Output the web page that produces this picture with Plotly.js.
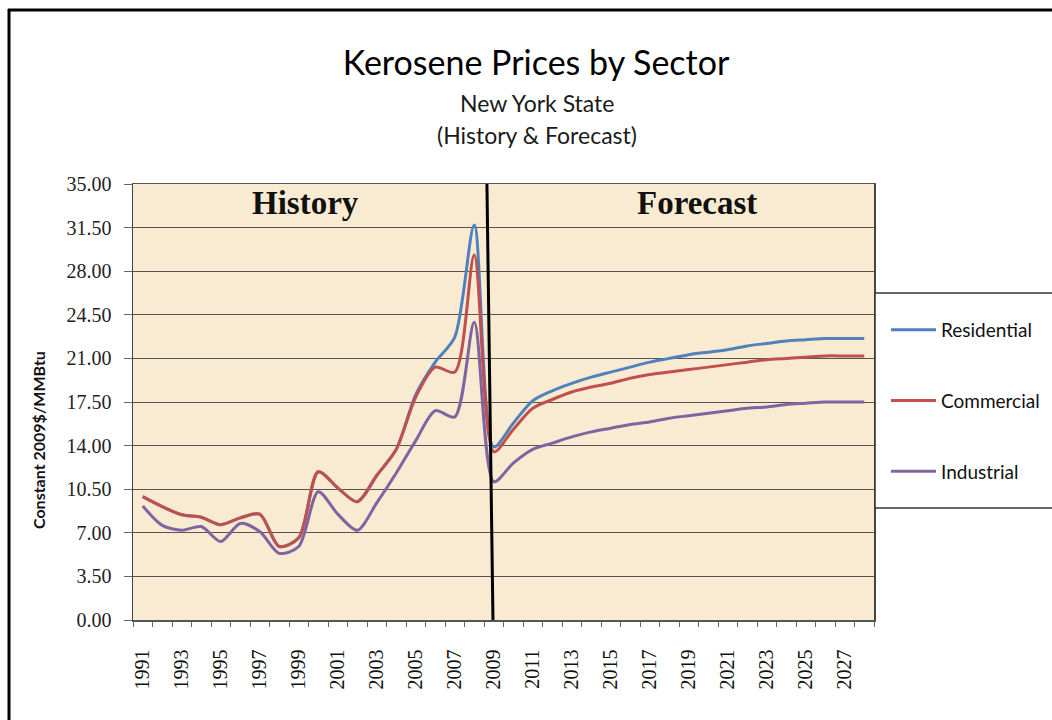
<!DOCTYPE html>
<html>
<head>
<meta charset="utf-8">
<script src="https://cdn.plot.ly/plotly-3.0.1.min.js"></script>
<style>html,body{margin:0;padding:0;background:#fff;}#chart{width:1052px;height:720px;}</style>
</head>
<body>
<div id="chart"></div>
<script>
// ---- data ----
const years = [1991,1992,1993,1994,1995,1996,1997,1998,1999,2000,2001,2002,2003,2004,2005,2006,2007,2008,2009,2010,
               2011,2012,2013,2014,2015,2016,2017,2018,2019,2020,2021,2022,2023,2024,2025,2026,2027,2028];
const residential = [9.9,9.1,8.45,8.25,7.65,8.2,8.5,5.9,6.6,11.9,10.6,9.5,11.6,13.7,18.1,20.7,22.7,31.7,13.9,15.8,
                     17.6,18.4,19.0,19.5,19.9,20.3,20.7,21.0,21.3,21.5,21.7,22.0,22.2,22.4,22.5,22.6,22.6,22.6];
const commercial  = [9.9,9.1,8.45,8.25,7.65,8.2,8.5,5.9,6.6,11.9,10.6,9.5,11.6,13.7,17.9,20.3,19.9,29.3,13.5,15.3,
                     17.0,17.7,18.3,18.7,19.0,19.4,19.7,19.9,20.1,20.3,20.5,20.7,20.9,21.0,21.1,21.2,21.2,21.2];
const industrial  = [9.15,7.6,7.2,7.5,6.3,7.75,7.1,5.35,5.9,10.3,8.5,7.2,9.4,11.8,14.4,16.8,16.3,23.9,11.1,12.6,
                     13.7,14.2,14.7,15.1,15.4,15.7,15.9,16.2,16.4,16.6,16.8,17.0,17.1,17.3,17.4,17.5,17.5,17.5];
const seriesNames = ['Residential','Commercial','Industrial'];
const tickYears = [1991,1993,1995,1997,1999,2001,2003,2005,2007,2009,2011,2013,2015,2017,2019,2021,2023,2025,2027];
const tickLabels = ['1991','1993','1995','1997','1999','2001','2003','2005','2007','2009','2011','2013','2015','2017','2019','2021','2023','2025','2027'];
const yTicks = [0,3.5,7,10.5,14,17.5,21,24.5,28,31.5,35];
const forecastStartYear = 2009;

// ---- layout geometry helpers ----
const L = 133, R = 874, T = 184, B = 620, W = 1052, H = 720;
const px2x = p => (p - L) / (R - L);
const py2y = p => (B - p) / (B - T);

const colors = ['#4F81BD', '#C0504D', '#8064A2'];
const values = [residential, commercial, industrial];

const traces = values.map((v, i) => ({
  x: years, y: v, name: seriesNames[i], type: 'scatter', mode: 'lines',
  line: {color: colors[i], width: 3, shape: 'spline', smoothing: 0.8},
  legendgroup: 'g' + i
}));

const serif = 'Liberation Serif, Times New Roman, serif';
const sans = 'Lato, Open Sans, sans-serif';

const layout = {
  width: W, height: H,
  margin: {l: L, r: W - R, t: T, b: H - B, autoexpand: false},
  paper_bgcolor: '#ffffff',
  plot_bgcolor: '#F9EBD2',
  showlegend: true,
  title: {
    text: 'Kerosene Prices by Sector',
    font: {family: sans, size: 34, color: '#000'},
    xref: 'container', yref: 'container',
    x: 536 / W, y: 1 - 63 / H, xanchor: 'center', yanchor: 'middle'
  },
  legend: {
    x: px2x(886), y: py2y(311), xanchor: 'left', yanchor: 'top',
    bgcolor: 'rgba(0,0,0,0)', borderwidth: 0,
    font: {family: sans, size: 19, color: '#111'},
    itemwidth: 45,
    tracegroupgap: 43
  },
  xaxis: {
    type: 'linear', range: [1990.5, 2028.5], fixedrange: true,
    tickmode: 'array', tickvals: tickYears, ticktext: tickLabels,
    tickangle: -90,
    tickfont: {family: serif, size: 20, color: '#111'},
    ticks: 'outside', ticklen: 5, tickcolor: 'rgba(0,0,0,0)',
    ticklabelstandoff: 15,
    minor: {tick0: 1990.5, dtick: 1, ticks: 'outside', ticklen: 5, tickcolor: '#666', showgrid: false},
    showgrid: false, zeroline: false,
    showline: true, linecolor: '#555', linewidth: 1.5, mirror: true
  },
  yaxis: {
    range: [0, 35], fixedrange: true,
    tickmode: 'array', tickvals: yTicks,
    ticktext: yTicks.map(v => v.toFixed(2)),
    tickfont: {family: serif, size: 20, color: '#222'},
    ticks: 'outside', ticklen: 8, tickcolor: '#666',
    ticklabelstandoff: 8,
    showgrid: true, gridcolor: '#555', gridwidth: 1,
    zeroline: false,
    showline: true, linecolor: '#444', linewidth: 1.5, mirror: true
  },
  annotations: [
    {text: 'New York State', xref: 'paper', yref: 'paper', x: px2x(537), y: py2y(103),
     xanchor: 'center', yanchor: 'middle', showarrow: false,
     font: {family: sans, size: 23, color: '#1a1a1a'}},
    {text: '(History &amp; Forecast)', xref: 'paper', yref: 'paper', x: px2x(537), y: py2y(135),
     xanchor: 'center', yanchor: 'middle', showarrow: false,
     font: {family: sans, size: 23, color: '#1a1a1a'}},
    {text: '<b>Constant 2009$/MMBtu</b>', xref: 'paper', yref: 'paper', x: px2x(38), y: py2y(440),
     xanchor: 'center', yanchor: 'middle', textangle: -90, showarrow: false,
     font: {family: sans, size: 16, color: '#111'}},
    {text: '<b>History</b>', xref: 'paper', yref: 'paper', x: px2x(305), y: py2y(203),
     xanchor: 'center', yanchor: 'middle', showarrow: false,
     font: {family: serif, size: 33, color: '#111'}},
    {text: '<b>Forecast</b>', xref: 'paper', yref: 'paper', x: px2x(697), y: py2y(203),
     xanchor: 'center', yanchor: 'middle', showarrow: false,
     font: {family: serif, size: 33, color: '#111'}}
  ],
  shapes: [
    // divider between history and forecast
    {type: 'line', xref: 'x', yref: 'y', x0: forecastStartYear - 0.35, y0: 35, x1: forecastStartYear - 0.04, y1: 0,
     line: {color: '#000', width: 3}, layer: 'above'},
    // legend box
    {type: 'rect', xref: 'paper', yref: 'paper', x0: px2x(875), x1: px2x(1070), y0: py2y(508), y1: py2y(293),
     line: {color: '#333', width: 1.5}, fillcolor: '#ffffff', layer: 'above'},
    // outer frame (left and top visible)
    {type: 'line', xref: 'paper', yref: 'paper', x0: px2x(9), x1: px2x(9), y0: py2y(9), y1: py2y(730),
     line: {color: '#000', width: 3}, layer: 'above'},
    {type: 'line', xref: 'paper', yref: 'paper', x0: px2x(8), x1: px2x(1070), y0: py2y(10), y1: py2y(10),
     line: {color: '#000', width: 3}, layer: 'above'}
  ]
};

Plotly.newPlot('chart', traces, layout, {displayModeBar: false, staticPlot: true});
</script>
</body>
</html>
